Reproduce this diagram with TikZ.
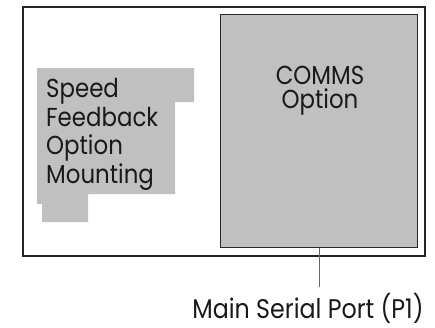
\documentclass[tikz,border=0pt]{standalone}
\usepackage{fontspec}
\setmainfont{Poppins}[FakeStretch=0.88]
\definecolor{optgray}{HTML}{C0C0C0}
\tikzset{
  frame/.style={line width=1.2pt, draw=black!85},
  optbox/.style={draw=black!85, line width=1pt, fill=optgray, anchor=north west},
  label/.style={font=\fontsize{26}{28.5}\selectfont, text=black!90, inner sep=0pt}
}
\begin{document}
\begin{tikzpicture}[x=1pt,y=-1pt]
  \useasboundingbox (0,0) rectangle (435,327);
  % Outer frame
  \draw[frame] (23,7) rectangle (425,256);

  % Speed feedback option mounting
  \fill[optgray] (37,68) -- (194,68) -- (194,102) -- (175,102) -- (175,194)
    -- (88,194) -- (88,222) -- (42,222) -- (42,204) -- (37,204) -- cycle;
  \node[label, align=left, anchor=base west] (speed) at (46,183)
    {Speed\\Feedback\\Option\\Mounting};

  % COMMS option
  \node[optbox, minimum width=197pt, minimum height=233pt, inner sep=0pt] (comms) at (220,14) {};
  \node[label, font=\fontsize{26}{24.5}\selectfont, align=center, anchor=base] (commstext) at (320,108.5) {COMMS\\Option};

  % Main serial port
  \node[label, font=\fontsize{27}{28}\selectfont, anchor=base] (port) at (308,318.5) {Main Serial Port (P1)};
  \coordinate (portend) at (comms.south |- 0,287);
  \draw[black!60, line width=0.9pt] (comms.south) -- (portend);
\end{tikzpicture}
\end{document}
